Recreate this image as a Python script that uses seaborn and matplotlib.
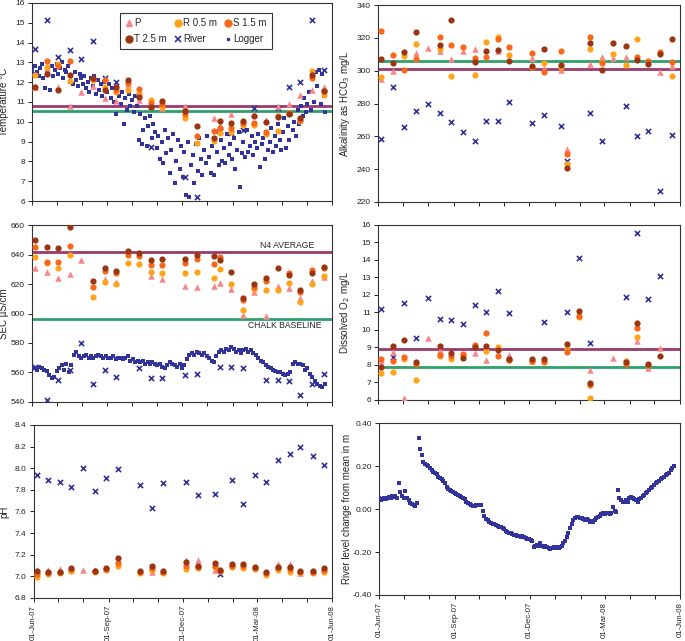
import numpy as np
import pandas as pd
import matplotlib
matplotlib.use('Agg')
import matplotlib.pyplot as plt
import matplotlib.dates as mdates
import matplotlib.ticker as mticker
from matplotlib.lines import Line2D
import seaborn as sns

nan = np.nan

# sampling dates (fortnightly)
sample_dates = ['2007-06-05', '2007-06-19', '2007-07-03', '2007-07-17', '2007-07-31',
                '2007-08-15', '2007-08-29', '2007-09-12', '2007-09-26', '2007-10-10',
                '2007-10-24', '2007-11-07', '2007-12-05', '2007-12-19', '2008-01-09',
                '2008-01-16', '2008-01-30', '2008-02-13', '2008-02-27', '2008-03-12',
                '2008-03-27', '2008-04-10', '2008-04-23', '2008-05-08', '2008-05-22']

# temperature
temp_P = [11.75, 12.7, 11.75, 10.8, 11.5, 11.8, 11.2, 11.05, 11.9, 11.1, 10.8, 10.7, 10.8,
          nan, 10.18, 9.85, 10.4, 10.0, 10.4, 10.1, 10.8, 10.9, 11.36, 11.6, 11.75]
temp_R = [12.35, 12.75, 12.9, 12.05, nan, 12.1, 11.75, 11.5, 11.6, 11.4, 11.1, 10.75, 10.2,
          8.95, 9.05, 9.45, 9.5, 9.85, 9.85, 9.4, 9.55, 10.45, 10.05, 12.55, 11.36]
temp_S = [nan, 13.05, 12.8, 13.05, nan, 12.15, 12.1, 11.6, 11.95, 11.67, 10.95, 10.9, 10.4,
          9.26, 9.55, 9.7, 9.7, 9.95, 9.96, 9.5, 10.3, 10.45, 10.1, 12.2, 11.55]
temp_T = [11.75, 12.4, 11.6, 12.35, nan, 12.2, 11.6, 11.75, 12.1, 11.25, 10.75, 11.07, 10.57,
          9.77, 9.17, 10.06, 9.93, 10.06, 10.27, 9.98, 10.23, 10.4, 10.18, 12.35, 11.57]
temp_river = [13.67, 15.12, 13.27, 13.6, 13.18, 14.09, 12.2, 12.0, nan, 11.35, 8.75, nan, 7.2,
              6.2, nan, 9.55, 9.42, 9.6, 10.69, nan, 10.69, 11.78, 12.03, 15.12, 12.6]
# logger, every 2 days from 01-Jun-07
temp_logger = [12.6, 12.4, 12.8, 12.5, 12.3, 12.7, 12.9, 12.2, 11.7, 12.5, 12.4, 11.6, 12.8, 12.3, 12.6,
               12.9, 12.4, 12.7, 13.0, 12.2, 12.6, 12.5, 12.8, 12.0, 12.3, 11.9, 12.5, 12.1, 11.8, 12.4, 12.2,
               11.9, 12.3, 11.7, 12.0, 11.5, 12.2, 11.8, 12.3, 11.4, 12.1, 11.6, 11.9, 11.3, 12.0, 11.7,
               11.5, 11.9, 11.2, 11.7, 11.0, 10.4, 11.6, 11.3, 10.9, 11.5, 9.9, 11.2, 10.6, 11.4, 10.8,
               11.1, 10.5, 11.3, 10.8, 9.1, 10.4, 8.9, 9.6, 10.2, 8.8, 9.8, 10.3, 9.2, 9.9, 9.5, 8.7,
               9.3, 8.1, 9.0, 7.9, 9.6, 8.4, 9.2, 7.4, 8.6, 9.4, 6.9, 8.0, 9.1, 7.6, 8.8,
               7.2, 8.5, 6.3, 9.0, 6.2, 7.8, 8.3, 6.9, 8.9, 7.5, 9.2, 8.1, 7.3, 8.6, 7.9, 9.3,
               8.2, 7.4, 8.8, 7.3, 9.5, 8.5, 7.8, 9.1, 8.0, 8.7, 7.9, 9.4, 8.3, 8.9, 8.1,
               9.2, 7.6, 8.6, 9.5, 6.7, 8.4, 9.0, 8.2, 9.6, 8.5, 8.8, 9.3, 8.3, 9.0,
               8.7, 9.4, 7.7, 8.9, 9.2, 8.1, 9.5, 8.6, 9.0, 9.7, 8.5, 9.3, 8.8, 9.9, 9.1, 8.6,
               9.5, 10.2, 8.7, 9.8, 9.1, 10.4, 9.6, 10.0, 9.3, 10.6, 9.9, 10.8, 10.3, 11.2, 10.5,
               10.9, 11.5, 10.6, 12.2, 11.0, 12.5, 11.8, 12.6, 10.9, 12.4, 11.3, 10.5]

# alkalinity
alk_P = [295, 300, nan, 310.7, 314.1, 312.1, 307, 312.1, 313.1, nan, 312.1, nan, 308,
         301.9, 300.5, 252.4, nan, 304.3, 308.2, 307.6, 308.2, nan, nan, 299.5, 302.9]
alk_R = [296, nan, 309, 316.4, nan, 313.1, 296.8, nan, 297.2, 317.6, 320.8, 309.6, 302.5,
         304.5, 302.5, 243.4, nan, 313.5, 305.2, 310.5, 303.3, 319.4, nan, nan, 296.6]
alk_S = [324, 309.6, 300.5, 307, nan, 320.8, 315.8, 314.7, 308, 308.2, 319.2, 314.7, 310.9,
         299.5, 312.3, 249.5, nan, 320.8, 305, nan, nan, 308.2, 306.2, 311.3, 305.6]
alk_T = [307, 305, 311.3, 323.5, nan, 315.8, 331, nan, 305.4, 312.3, 312.7, 305.8, 303.1,
         313.3, 303.5, 240.8, nan, 316.8, 300.5, 317.2, 315.3, 306.6, 304.1, 310, 319.2]
alk_river = [258.7, 290, 265.6, 275.4, 279.7, 274, 268.7, 262.4, 256.9, 269.1, 269.3, 280.7,
             267.9, 273, 266.6, 245, nan, 274.2, 256.9, nan, 278.5, 260.1, 263, 226.7, 260.7]

# specific electrical conductance
sec_P = [631.2, 628.3, 624, 627, 636.2, nan, 623.5, 621.5, nan, nan, 625.4, 623.1, 619,
         618.1, 619, 620.4, 616.3, 599.3, 614.5, 598.6, 618.6, 617.4, 610.2, 622.2, 624.9]
sec_R = [638.5, 634, 631, 640, nan, 610.9, 621.5, 620, 634, 633.3, 628.3, 627.4, 627.2,
         628.3, 624.2, 630.1, 620, 602.3, 616.8, 615.9, 615.9, 620.8, 607.9, 620, 625.6]
sec_S = [644.8, 635, 635, 646, nan, 618, 629, 627.6, 640, 639, 633, 633, 634,
         636.9, 633.3, 638.5, nan, 609, 617.7, 622.2, nan, 627.2, 614.5, 629.4, 630.6]
sec_T = [650, 644.8, 644.2, 658.4, nan, 622.2, 631, 628.8, 642.6, 641.2, 636.2, 636.9, 636.9,
         639.8, 639, 636.2, 628.1, 610.2, 619.7, 624.2, 630.6, 626, 615.9, 627.6, 631.7]
sec_river = [564, 541, 555, 562, 580, 552, 562, 557, nan, 563, 556, 556, 558,
             559, nan, 564, 564, 563, nan, 555, 555, 554, 545, 552, 559]
# logger, every 3 days from 01-Jun-07
sec_logger = [563, 563, 562, 564, 563, 562, 561, 558, 556, 557,
              561, 563, 565, 562, 566, 560, 565, 572, 574, 571,
              570, 571, 572, 570, 571, 570, 571, 572, 571, 570,
              571, 570, 570, 571, 569, 570, 570, 569, 570, 571,
              568, 569, 567, 568, 567, 568, 566, 567, 566, 567,
              566, 565, 566, 564, 563, 565, 567, 566, 565, 564,
              566, 563, 565, 569, 572, 573, 572, 574, 573, 572,
              573, 571, 570, 568, 567, 571, 574, 575, 574, 576,
              575, 577, 576, 574, 575, 573, 575, 576, 574, 575,
              573, 572, 570, 568, 567, 565, 564, 563, 562, 561,
              560, 560, 559, 558, 559, 560, 566, 567, 566, 566,
              565, 562, 563, 559, 557, 554, 552, 551, 550, 552]

# dissolved oxygen
do_P = [8.2, 8.76, 6.1, nan, 9.52, 8.86, nan, nan, 8.7, 8.29, nan, 8.57, 8.22,
        nan, nan, nan, nan, 7.71, nan, 8.42, nan, 9.35, 7.8, 8.95, nan]
do_R = [7.52, 7.6, 8.34, 7.14, nan, 8.51, 8.36, 8.55, 9.1, 8.78, 9.04, 8.3, 8.22,
        8.2, nan, 8.9, 10.75, 6.1, nan, nan, 8.25, 9.62, nan, nan, nan]
do_S = [8.32, 8.21, 8.48, 8.04, nan, 8.57, 8.51, 8.63, 9.16, 9.85, 8.53, 8.3, 8.25,
        8.17, nan, 8.72, 10.8, 6.86, nan, nan, 8.06, 10.1, 8.0, nan, nan]
do_T = [7.9, 9.08, 9.4, 8.15, nan, 9.08, 8.7, 8.4, 9.05, 9.08, 8.86, 8.32, 8.32,
        8.36, nan, 9.2, 11.08, 6.95, nan, nan, 8.15, 10.38, 8.08, 8.53, nan]
do_river = [11.2, 8.46, 11.55, 9.56, 11.8, 10.6, 10.55, 10.36, 11.45, 11.0, 12.2, 10.97, nan,
            10.46, nan, 11.0, 14.13, 9.27, nan, nan, 11.87, 15.56, 11.77, 13.1, nan]

# pH
ph_P = [7.06, 7.06, 7.07, 7.06, 7.06, 7.06, 7.07, 7.15, nan, nan, 7.04, 7.05, 7.15,
        7.15, 7.06, nan, 7.11, nan, nan, nan, 7.11, 7.11, 7.03, 7.05, 7.07]
ph_R = [6.99, 7.02, 7.03, 7.05, nan, 7.04, 7.06, 7.10, nan, 7.03, 7.06, 7.03, 7.07,
        7.08, 7.09, 7.05, 7.09, 7.08, 7.07, 7.01, 7.06, 7.04, 7.03, 7.03, 7.04]
ph_S = [7.02, 7.03, 7.04, 7.07, nan, 7.05, 7.07, 7.12, nan, 7.04, 7.08, 7.04, 7.10,
        7.09, 7.10, 7.05, 7.10, 7.10, 7.08, 7.03, 7.08, 7.07, 7.04, 7.04, 7.06]
ph_T = [7.05, 7.04, 7.04, 7.08, nan, 7.05, 7.08, 7.17, nan, 7.05, 7.10, 7.05, 7.13,
        7.10, 7.12, 7.06, 7.11, 7.11, 7.09, 7.04, 7.09, 7.09, 7.05, 7.05, 7.08]
ph_river = [7.94, 7.89, 7.87, 7.83, 8.0, 7.79, 7.91, 7.99, nan, 7.84, 7.63, 7.86, 7.87,
            7.75, 7.76, 7.02, 7.89, 7.67, 7.94, 7.87, 8.08, 8.13, 8.2, 8.11, 8.03]

# river level change from mean, every 2 days from 01-Jun-07
level_logger = [0.05, 0.04, 0.045, 0.05, 0.045, 0.05, 0.055, 0.05, 0.06, 0.055, 0.06, 0.05,
                0.12, 0.08, 0.06, 0.05, 0.085, 0.05, 0.04, 0.03, 0.025, 0.02, 0.015, 0.03,
                0.33, 0.28, 0.25, 0.22, 0.21, 0.205, 0.2, 0.19, 0.18, 0.175, 0.17, 0.165, 0.15,
                0.145, 0.14, 0.13, 0.12, 0.105, 0.095, 0.09, 0.085, 0.08, 0.075, 0.07, 0.065,
                0.06, 0.055, 0.05, 0.045, 0.035, 0.03, 0.025, 0.02, 0.015, 0.015, 0.02, 0.02,
                0.02, 0.02,
                -0.01, -0.03, -0.045, -0.05, -0.06, -0.065, -0.07, -0.07, -0.075, -0.08, -0.085,
                -0.085, -0.09, -0.095, -0.1, -0.105, -0.11, -0.11, -0.115, -0.12, -0.12, -0.125,
                -0.125, -0.13, -0.125, -0.13, -0.135, -0.14, -0.14, -0.145, -0.15,
                -0.175, -0.17, -0.165, -0.17, -0.16, -0.17, -0.175, -0.17, -0.175, -0.18, -0.185,
                -0.18, -0.175, -0.18, -0.175, -0.18, -0.175,
                -0.17, -0.16, -0.15, -0.13, -0.11, -0.09, -0.07, -0.05, -0.04, -0.035,
                -0.035, -0.04, -0.04, -0.045, -0.05, -0.045, -0.05, -0.06, -0.055, -0.06, -0.05,
                -0.04, -0.035, -0.03, -0.025, -0.02, -0.025, -0.02, -0.02, -0.025, -0.02, 0.01,
                -0.01, -0.015,
                0.09, 0.05, 0.04, 0.035, 0.035, 0.04, 0.035, 0.05, 0.055, 0.05, 0.045, 0.04,
                0.035, 0.045, 0.05, 0.06, 0.065, 0.075, 0.08, 0.09, 0.1, 0.105, 0.11, 0.12,
                0.125, 0.13, 0.14, 0.145, 0.15, 0.16, 0.165, 0.17, 0.18, 0.19, 0.2]

# colours
c_P = '#F5868C'
c_R = '#FFA31A'
c_S = '#F8681A'
c_T = '#993510'
c_blue = '#33339C'
c_purple = '#9B3A6C'
c_green = '#2EA06A'

sns.set_style('ticks')
plt.rcParams['font.family'] = ['Liberation Sans', 'DejaVu Sans']
plt.rcParams['axes.linewidth'] = 0.8

sdates = pd.to_datetime(sample_dates)


def samples(ax, P, R, S, T, river):
    df = pd.DataFrame({'date': sdates, 'P': P, 'R': R, 'S': S, 'T': T, 'river': river})
    sns.scatterplot(data=df, x='date', y='river', marker='x', color=c_blue, s=14,
                    linewidth=1.2, ax=ax, zorder=4)
    sns.scatterplot(data=df, x='date', y='P', marker='^', color=c_P, s=22,
                    linewidth=0, ax=ax, zorder=5)
    sns.scatterplot(data=df, x='date', y='R', marker='o', color=c_R, s=20,
                    linewidth=0, ax=ax, zorder=5)
    sns.scatterplot(data=df, x='date', y='S', marker='o', color=c_S, s=20,
                    linewidth=0, ax=ax, zorder=5)
    sns.scatterplot(data=df, x='date', y='T', marker='o', color=c_T, s=20,
                    linewidth=0, ax=ax, zorder=5)


def logger(ax, vals, step):
    d = pd.date_range('2007-06-01', periods=len(vals), freq=f'{step}D')
    df = pd.DataFrame({'date': d, 'val': vals})
    sns.scatterplot(data=df, x='date', y='val', marker='s', color=c_blue, s=6,
                    linewidth=0, ax=ax, zorder=3)


def style(ax, ylim, ystep, ylabel, fmt, xlabels, labx):
    ax.set_xlim(pd.Timestamp('2007-06-01'), pd.Timestamp('2008-06-01'))
    ax.set_ylim(*ylim)
    ax.yaxis.set_major_locator(mticker.MultipleLocator(ystep))
    ax.yaxis.set_major_formatter(mticker.FormatStrFormatter(fmt))
    ax.xaxis.set_major_locator(mdates.MonthLocator(bymonth=[3, 6, 9, 12]))
    ax.xaxis.set_minor_locator(mdates.MonthLocator())
    ax.xaxis.set_major_formatter(mdates.DateFormatter('%d-%b-%y'))
    ax.tick_params(axis='both', which='both', direction='out', length=3, width=0.7,
                   labelsize=6, colors='#222222', pad=2)
    if xlabels:
        for lab in ax.get_xticklabels():
            lab.set_rotation(90)
            lab.set_fontsize(5.6)
    else:
        ax.tick_params(axis='x', labelbottom=False)
    ax.set_xlabel('')
    ax.set_ylabel(ylabel, fontsize=7)
    ax.yaxis.set_label_coords(labx, 0.5)
    for sp in ax.spines.values():
        sp.set_visible(True)
        sp.set_color('#333333')


fig = plt.figure(figsize=(6.85, 6.41), dpi=100)
ax1 = fig.add_axes([0.0467, 0.6864, 0.438, 0.309])
ax2 = fig.add_axes([0.5518, 0.6849, 0.441, 0.307])
ax3 = fig.add_axes([0.0467, 0.3729, 0.438, 0.276])
ax4 = fig.add_axes([0.5518, 0.376, 0.441, 0.273])
ax5 = fig.add_axes([0.0490, 0.0671, 0.436, 0.270])
ax6 = fig.add_axes([0.5533, 0.0718, 0.440, 0.268])

# temperature
logger(ax1, temp_logger, 2)
samples(ax1, temp_P, temp_R, temp_S, temp_T, temp_river)
ax1.axhline(10.8, color=c_purple, lw=2, zorder=2)
ax1.axhline(10.55, color=c_green, lw=2, zorder=2)
style(ax1, (6, 16), 1, 'Temperature °C', '%d', False, -0.075)

handles = [
    Line2D([], [], marker='^', color=c_P, ls='', ms=5, label='P'),
    Line2D([], [], marker='o', color=c_T, ls='', ms=5, label='T 2.5 m'),
    Line2D([], [], marker='o', color=c_R, ls='', ms=5, label='R 0.5 m'),
    Line2D([], [], marker='x', color=c_blue, ls='', ms=4, mew=1.2, label='River'),
    Line2D([], [], marker='o', color=c_S, ls='', ms=5, label='S 1.5 m'),
    Line2D([], [], marker='s', color=c_blue, ls='', ms=2, label='Logger'),
]
leg = ax1.legend(handles=handles, ncol=3, loc='upper left', bbox_to_anchor=(0.293, 0.95),
                 fontsize=7, frameon=True, fancybox=False, borderaxespad=0,
                 handletextpad=0.15, columnspacing=0.7, handlelength=0.8,
                 borderpad=0.55, labelspacing=0.6)
leg.get_frame().set_edgecolor('#333333')
leg.get_frame().set_linewidth(0.8)
leg.get_frame().set_alpha(1)

# alkalinity
samples(ax2, alk_P, alk_R, alk_S, alk_T, alk_river)
ax2.axhline(306, color=c_green, lw=2, zorder=2)
ax2.axhline(301, color=c_purple, lw=2, zorder=2)
style(ax2, (220, 340), 20, 'Alkalinity as HCO$_3$ mg/L', '%d', False, -0.085)

# SEC
logger(ax3, sec_logger, 3)
samples(ax3, sec_P, sec_R, sec_S, sec_T, sec_river)
ax3.axhline(642, color=c_purple, lw=2, zorder=2)
ax3.axhline(596.5, color=c_green, lw=2, zorder=2)
ax3.text(0.85, 0.887, 'N4 AVERAGE', transform=ax3.transAxes, fontsize=6.2,
         ha='center', va='center')
ax3.text(0.843, 0.43, 'CHALK BASELINE', transform=ax3.transAxes, fontsize=6.2,
         ha='center', va='center')
style(ax3, (540, 660), 20, 'SEC µS/cm', '%d', False, -0.075)

# dissolved oxygen
samples(ax4, do_P, do_R, do_S, do_T, do_river)
ax4.axhline(8.9, color=c_purple, lw=2, zorder=2)
ax4.axhline(7.9, color=c_green, lw=2, zorder=2)
style(ax4, (6, 16), 1, 'Dissolved O$_2$ mg/L', '%d', False, -0.085)

# pH
samples(ax5, ph_P, ph_R, ph_S, ph_T, ph_river)
style(ax5, (6.8, 8.4), 0.2, 'pH', '%.1f', True, -0.08)

# river level
logger(ax6, level_logger, 2)
style(ax6, (-0.4, 0.4), 0.2, 'River level change from mean in m', '%.2f', True, -0.09)

fig.savefig('out.png', dpi=100)
